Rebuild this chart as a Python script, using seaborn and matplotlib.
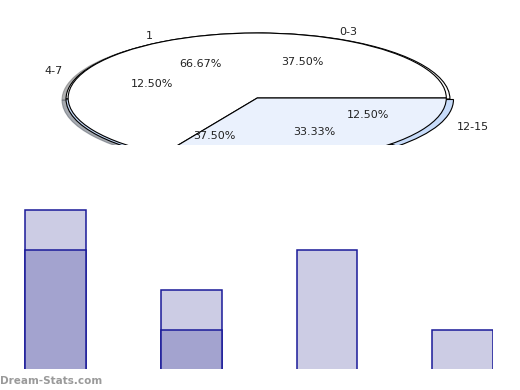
import matplotlib
matplotlib.use("Agg")
import matplotlib.pyplot as plt
import pandas as pd
import seaborn as sns

# pie data (two overlapping pies, as in the source graphic)
age_labels = ["0-3", "4-7", "8-11", "12-15"]
age_share = [37.5, 12.5, 37.5, 12.5]
flag_labels = ["1", "0"]
flag_share = [66.67, 33.33]

# stacked bar data
bar_groups = ["0-3", "4-7", "8-11", "12-15"]
bar_lower = [3, 1, 0, 0]
bar_upper = [1, 1, 3, 1]

sns.set_theme(style="white")
plt.rcParams["font.family"] = ["DejaVu Sans"]

fig = plt.figure(figsize=(5.2, 3.9), dpi=100)

# --- squashed pie on top, cut off by its own axes ---
ax_pie = fig.add_axes([0, 245 / 390, 1, 145 / 390])
edge = dict(edgecolor="black", linewidth=0.8)
txt = dict(fontsize=8, color="#222222")

w1, t1, p1 = ax_pie.pie(age_share, labels=age_labels, autopct="%.2f%%",
                        colors=["white", "white", "#c8dcfa", "#c8dcfa"],
                        explode=[0, 0, 0, 0.02],
                        shadow=dict(ox=-0.015, oy=-0.012, shade=0.6),
                        startangle=0, wedgeprops=edge, textprops=txt)
w2, t2, p2 = ax_pie.pie(flag_share, labels=flag_labels, autopct="%.2f%%",
                        colors=["white", "#eaf1fd"], radius=0.985,
                        center=(-0.004, 0.015), startangle=0,
                        wedgeprops=edge, textprops=txt)

ax_pie.set_aspect("auto")
ax_pie.set_xlim(-1.344, 1.365)
ax_pie.set_ylim(-0.697, 1.5)
ax_pie.axis("off")
for p in ax_pie.patches:
    p.set_clip_on(True)
    p.set_clip_path(ax_pie.patch)
for t in list(t1) + list(p1) + list(t2) + list(p2):
    t.set_clip_box(ax_pie.bbox)
    t.set_clip_on(True)

# --- stacked bars below ---
ax_bar = fig.add_axes([0, 21 / 390, 493 / 520, 180 / 390])
df = pd.DataFrame({"group": bar_groups, "lower": bar_lower, "upper": bar_upper})
df["total"] = df["lower"] + df["upper"]

sns.barplot(data=df, x="group", y="total", order=bar_groups, color="#ccccE4",
            saturation=1, width=0.45, edgecolor="#1a1a99", linewidth=1.1, ax=ax_bar)
sns.barplot(data=df, x="group", y="lower", order=bar_groups, color="#a3a3cf",
            saturation=1, width=0.45, edgecolor="#1a1a99", linewidth=1.1, ax=ax_bar)

ax_bar.set_xlim(-0.413, 3.225)
ax_bar.set_ylim(0.03, 4.53)
ax_bar.axis("off")

fig.text(0.0, 4 / 390, "Dream-Stats.com", fontsize=7.5, fontweight="bold",
         color="#9a9a9a", ha="left", va="bottom")

fig.savefig("out.png", dpi=100)
